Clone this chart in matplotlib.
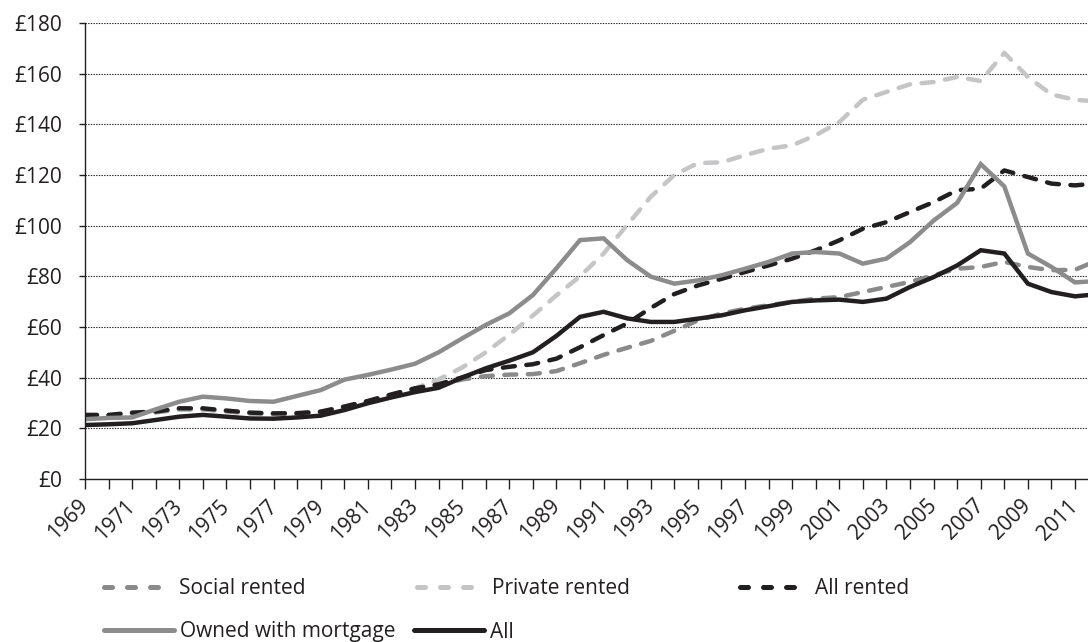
import matplotlib
matplotlib.use("Agg")
import matplotlib.pyplot as plt
from matplotlib.lines import Line2D

plt.rcParams['font.family'] = ['Open Sans', 'DejaVu Sans']

years = list(range(1969, 2013))

social_rented = [24.8, 25.0, 25.8, 26.3, 27.5, 27.5, 26.7, 25.9, 25.6, 25.7,
                 26.2, 28.2, 30.3, 32.8, 35.0, 37.0, 39.3, 40.6, 41.2, 41.4,
                 42.6, 45.7, 49.0, 51.8, 54.5, 58.5, 62.6, 65.3, 67.2, 68.6,
                 69.9, 71.2, 71.8, 73.8, 75.8, 77.8, 80.4, 83.0, 83.7, 85.7,
                 83.7, 82.4, 82.6, 86.5]

private_rented = [25.0, 25.1, 26.0, 26.5, 27.7, 27.7, 26.9, 26.1, 25.8, 25.9,
                  26.5, 28.5, 30.7, 33.3, 35.8, 39.3, 44.0, 50.0, 57.0, 64.5,
                  72.5, 80.0, 89.0, 100.3, 111.4, 120.0, 124.7, 125.0, 127.8, 130.4,
                  131.7, 135.7, 140.9, 149.7, 152.8, 155.8, 156.7, 158.7, 157.1, 168.2,
                  158.7, 151.8, 149.7, 149.0]

all_rented = [25.3, 25.3, 26.2, 26.6, 27.9, 27.9, 27.0, 26.2, 25.9, 26.0,
              26.6, 28.6, 30.8, 33.4, 35.8, 37.4, 40.1, 43.0, 44.3, 45.3,
              47.5, 52.0, 56.8, 61.4, 67.5, 73.0, 76.4, 79.0, 81.7, 84.3,
              87.0, 90.3, 94.2, 98.8, 101.4, 105.4, 109.3, 114.0, 114.6, 121.8,
              119.2, 116.6, 115.9, 116.8]

owned_mortgage = [23.6, 24.1, 24.3, 27.5, 30.5, 32.5, 31.8, 30.8, 30.5, 32.8,
                  35.1, 39.2, 41.1, 43.2, 45.5, 50.0, 55.5, 60.8, 65.4, 72.6,
                  83.2, 94.3, 95.0, 86.4, 79.9, 77.1, 78.4, 80.4, 83.0, 85.7,
                  89.0, 89.6, 89.0, 85.0, 87.0, 93.5, 102.0, 109.0, 124.3, 115.5,
                  89.0, 83.7, 77.6, 78.2]

all_tenures = [21.3, 21.6, 22.0, 23.3, 24.6, 25.3, 24.6, 23.9, 23.8, 24.3,
               25.0, 27.2, 29.9, 32.2, 34.3, 36.0, 40.0, 43.7, 46.7, 50.0,
               56.5, 64.0, 66.0, 63.4, 62.0, 62.0, 63.3, 64.6, 66.6, 68.2,
               69.9, 70.5, 70.8, 69.9, 71.2, 75.8, 79.7, 84.3, 90.3, 89.0,
               77.1, 73.8, 72.1, 73.0]

y_ticks = [0, 20, 40, 60, 80, 100, 120, 140, 160, 180]
y_labels = ['£' + str(v) for v in y_ticks]

names = ['Social rented', 'Private rented', 'All rented', 'Owned with mortgage', 'All']
colors = ['#8a8a8a', '#c5c5c7', '#231f20', '#8c8c8c', '#231f20']
dashed = [True, True, True, False, False]
series = [social_rented, private_rented, all_rented, owned_mortgage, all_tenures]

W, H = 1088, 642
fig = plt.figure(figsize=(W / 100, H / 100), dpi=100)
x0, x2012, y0, y180 = 85, 1098.6, 479, 23
ax = fig.add_axes([x0 / W, (H - y0) / H, (x2012 - x0) / W, (y0 - y180) / H])

lw = 3.2
for vals, c, d in zip(series, colors, dashed):
    if d:
        ax.plot(years, vals, color=c, lw=lw, linestyle=(0, (2.7, 2.6)),
                dash_capstyle='round', solid_joinstyle='round', zorder=3)
    else:
        ax.plot(years, vals, color=c, lw=lw, solid_capstyle='butt',
                solid_joinstyle='miter', zorder=3)

ax.set_xlim(1969, 2012)
ax.set_ylim(0, 180)
ax.set_yticks(y_ticks)
ax.set_yticklabels(y_labels)
ax.set_xticks(years)
ax.set_xticklabels([str(y) if (y - 1969) % 2 == 0 else '' for y in years])

ax.grid(axis='y', color='#231f20', linestyle=(0, (1.2, 1.2)), linewidth=0.8)
ax.set_axisbelow(True)
for s in ['top', 'right']:
    ax.spines[s].set_visible(False)
for s in ['left', 'bottom']:
    ax.spines[s].set_color('#231f20')
    ax.spines[s].set_linewidth(1.0)
    ax.spines[s].set_zorder(4)

ax.tick_params(axis='y', direction='out', length=4.3, width=1.0,
               color='#231f20', labelsize=15, pad=12, labelcolor='#231f20')
ax.tick_params(axis='x', direction='out', length=7.2, width=1.0,
               color='#231f20', labelsize=15, pad=10, labelcolor='#231f20')
for lab in ax.get_xticklabels():
    lab.set_rotation(45)
    lab.set_ha('right')
    lab.set_va('center')
    lab.set_rotation_mode('anchor')

# Legend proxies
def proxy(i):
    if dashed[i]:
        return Line2D([], [], color=colors[i], lw=3.6, linestyle=(0, (1.6, 3.0)),
                      dash_capstyle='round')
    return Line2D([], [], color=colors[i], lw=3.6, solid_capstyle='round')

fs = 15 * 100 / 72.0  # font size in px
leg1 = fig.legend([proxy(0), proxy(1), proxy(2)], names[:3], loc='center left',
                  bbox_to_anchor=(104 / W, 1 - 589 / H), ncol=3, frameon=False,
                  fontsize=15, borderpad=0, borderaxespad=0,
                  handlelength=58 / fs, handletextpad=17 / fs, columnspacing=111 / fs)
leg2 = fig.legend([proxy(3), proxy(4)], names[3:], loc='center left',
                  bbox_to_anchor=(104 / W, 1 - 632 / H), ncol=2, frameon=False,
                  fontsize=15, borderpad=0, borderaxespad=0,
                  handlelength=70 / fs, handletextpad=6 / fs, columnspacing=18 / fs)
for lg in (leg1, leg2):
    for t in lg.get_texts():
        t.set_color('#231f20')

fig.savefig('out.png', dpi=100)
